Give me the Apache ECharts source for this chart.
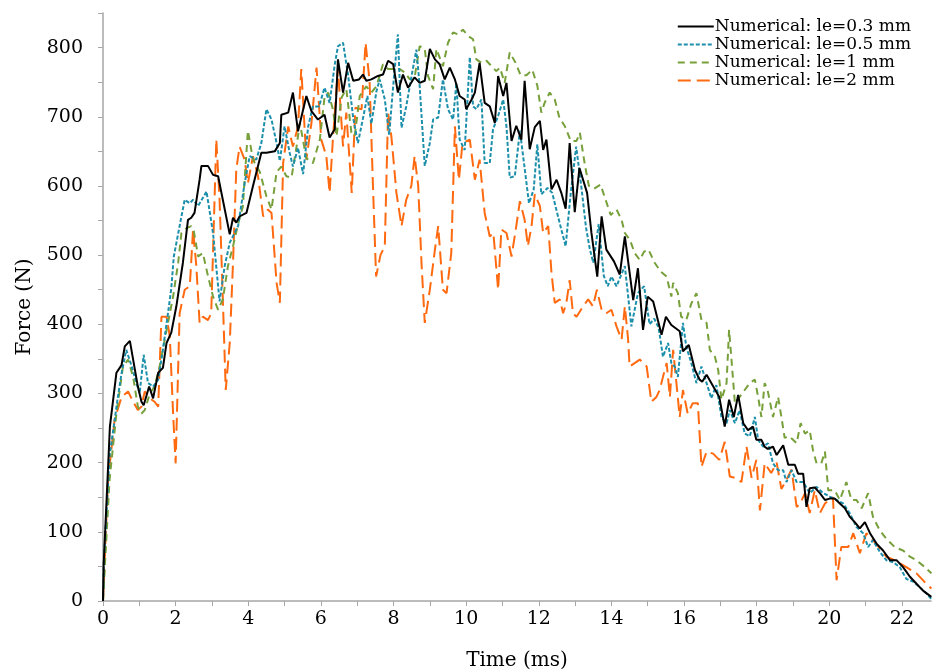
<!DOCTYPE html>
<html>
<head>
<meta charset="utf-8">
<script src="https://cdn.jsdelivr.net/npm/echarts@6/dist/echarts.min.js"></script>
<style>
html, body { margin: 0; padding: 0; background: #fff; }
#main { width: 932px; height: 671px; }
</style>
</head>
<body>
<div id="main"></div>
<script>
var seriesNames = ['Numerical: le=0.3 mm', 'Numerical: le=0.5 mm', 'Numerical: le=1 mm', 'Numerical: le=2 mm'];
var xTicks = [0, 2, 4, 6, 8, 10, 12, 14, 16, 18, 20, 22];

// le = 0.3 mm
var t03 = [0, 0.02, 0.19, 0.37, 0.51, 0.6, 0.74, 0.96, 1.06, 1.12, 1.27, 1.38, 1.52, 1.65, 1.75, 1.88, 2.02, 2.2, 2.34, 2.43, 2.52, 2.66, 2.71, 2.89, 3.03, 3.17, 3.49, 3.58, 3.67, 3.76, 3.95, 4.13, 4.36, 4.5, 4.73, 4.87, 4.91, 5.1, 5.23, 5.37, 5.6, 5.74, 5.92, 6.1, 6.24, 6.38, 6.47, 6.61, 6.75, 6.89, 7.05, 7.16, 7.25, 7.39, 7.57, 7.71, 7.85, 7.99, 8.12, 8.26, 8.4, 8.58, 8.72, 8.86, 9.0, 9.14, 9.27, 9.41, 9.55, 9.69, 9.82, 9.96, 10.0, 10.15, 10.24, 10.37, 10.51, 10.65, 10.79, 10.88, 11.02, 11.11, 11.25, 11.38, 11.52, 11.61, 11.75, 11.89, 12.03, 12.12, 12.21, 12.35, 12.49, 12.62, 12.74, 12.85, 12.99, 13.12, 13.33, 13.45, 13.61, 13.73, 13.86, 14.07, 14.23, 14.37, 14.6, 14.73, 14.87, 15.0, 15.15, 15.38, 15.5, 15.65, 15.88, 15.97, 16.13, 16.3, 16.43, 16.5, 16.62, 16.75, 16.97, 17.12, 17.24, 17.37, 17.49, 17.63, 17.76, 17.9, 17.99, 18.13, 18.22, 18.3, 18.45, 18.55, 18.73, 18.87, 19.05, 19.14, 19.28, 19.37, 19.46, 19.6, 19.74, 19.88, 20.01, 20.15, 20.29, 20.43, 20.56, 20.7, 20.84, 20.98, 21.12, 21.3, 21.48, 21.67, 21.85, 22.03, 22.22, 22.4, 22.58, 22.81];
var f03 = [0, 55, 252, 330, 341, 368, 376, 310, 288, 283, 310, 293, 330, 337, 373, 388, 426, 489, 551, 554, 561, 609, 629, 629, 616, 614, 530, 554, 547, 556, 561, 600, 648, 648, 650, 662, 703, 706, 735, 679, 730, 708, 696, 703, 670, 682, 783, 735, 778, 752, 754, 761, 752, 754, 759, 761, 781, 776, 735, 761, 742, 757, 749, 752, 798, 783, 776, 754, 771, 754, 730, 725, 711, 725, 735, 778, 720, 715, 691, 759, 730, 749, 665, 687, 667, 752, 653, 685, 694, 652, 667, 595, 609, 590, 567, 662, 562, 626, 590, 532, 469, 556, 508, 491, 472, 527, 435, 481, 392, 440, 433, 385, 411, 399, 390, 361, 370, 334, 320, 317, 327, 315, 295, 252, 291, 266, 298, 257, 247, 252, 233, 233, 223, 220, 223, 211, 225, 197, 197, 184, 184, 136, 163, 164, 156, 146, 148, 148, 141, 134, 122, 114, 105, 114, 98, 83, 73, 59, 59, 49, 35, 25, 15, 6];

// le = 0.5 mm
var t05 = [0, 0.02, 0.18, 0.41, 0.51, 0.64, 0.78, 0.92, 1.01, 1.12, 1.24, 1.38, 1.52, 1.65, 1.79, 1.88, 1.95, 2.16, 2.25, 2.39, 2.48, 2.62, 2.85, 3.03, 3.21, 3.35, 3.49, 3.72, 3.9, 4.04, 4.22, 4.36, 4.5, 4.64, 4.78, 4.87, 5.0, 5.14, 5.23, 5.37, 5.51, 5.65, 5.78, 5.95, 6.1, 6.24, 6.38, 6.47, 6.61, 6.75, 6.89, 7.02, 7.16, 7.28, 7.39, 7.53, 7.62, 7.76, 7.88, 7.99, 8.12, 8.22, 8.35, 8.49, 8.63, 8.72, 8.86, 9.0, 9.09, 9.23, 9.36, 9.5, 9.64, 9.73, 9.82, 9.96, 10.1, 10.19, 10.28, 10.42, 10.51, 10.65, 10.74, 10.88, 11.02, 11.11, 11.2, 11.34, 11.48, 11.6, 11.73, 11.86, 11.96, 12.07, 12.24, 12.37, 12.51, 12.62, 12.74, 12.88, 13.03, 13.18, 13.3, 13.4, 13.5, 13.65, 13.79, 13.9, 14.0, 14.14, 14.37, 14.55, 14.73, 14.9, 15.05, 15.18, 15.3, 15.42, 15.56, 15.65, 15.74, 15.83, 15.97, 16.06, 16.2, 16.34, 16.48, 16.62, 16.75, 16.89, 17.03, 17.17, 17.26, 17.4, 17.53, 17.67, 17.81, 17.95, 18.04, 18.18, 18.31, 18.45, 18.59, 18.73, 18.82, 18.96, 19.1, 19.28, 19.46, 19.65, 19.83, 20.01, 20.2, 20.38, 20.56, 20.75, 20.93, 21.07, 21.2, 21.39, 21.57, 21.76, 21.94, 22.12, 22.31, 22.49, 22.67, 22.81];
var f05 = [0, 55, 209, 295, 329, 363, 341, 315, 300, 356, 315, 310, 320, 363, 416, 452, 498, 556, 580, 575, 580, 571, 592, 532, 433, 484, 518, 542, 604, 643, 638, 662, 711, 696, 662, 636, 686, 648, 628, 655, 617, 686, 715, 715, 742, 720, 775, 802, 807, 760, 698, 662, 698, 730, 690, 737, 754, 725, 674, 744, 819, 684, 715, 757, 797, 744, 629, 662, 696, 699, 754, 711, 696, 749, 667, 652, 786, 715, 711, 725, 633, 633, 682, 701, 725, 686, 612, 614, 680, 630, 575, 595, 660, 588, 597, 590, 560, 537, 513, 590, 657, 595, 540, 510, 489, 545, 470, 455, 469, 455, 484, 397, 445, 455, 400, 408, 395, 353, 373, 344, 339, 324, 402, 368, 344, 315, 339, 315, 293, 312, 266, 257, 276, 257, 276, 242, 238, 266, 233, 223, 228, 199, 189, 189, 172, 189, 172, 172, 156, 165, 156, 151, 146, 141, 127, 107, 98, 78, 88, 71, 59, 56, 49, 32, 28, 20, 11, 3];

// le = 1 mm
var t1 = [0, 0.02, 0.18, 0.37, 0.55, 0.69, 0.83, 0.96, 1.06, 1.15, 1.29, 1.42, 1.56, 1.7, 1.79, 1.93, 2.07, 2.16, 2.3, 2.43, 2.5, 2.62, 2.75, 2.89, 3.03, 3.17, 3.3, 3.44, 3.58, 3.72, 3.85, 3.99, 4.13, 4.32, 4.5, 4.64, 4.78, 4.91, 5.05, 5.19, 5.33, 5.42, 5.6, 5.78, 5.97, 6.1, 6.2, 6.33, 6.43, 6.57, 6.7, 6.84, 6.93, 7.07, 7.25, 7.39, 7.53, 7.71, 7.85, 8.03, 8.17, 8.31, 8.45, 8.58, 8.72, 8.86, 8.95, 9.09, 9.18, 9.36, 9.5, 9.64, 9.78, 9.91, 10.05, 10.19, 10.28, 10.42, 10.56, 10.7, 10.83, 10.93, 11.06, 11.2, 11.36, 11.5, 11.66, 11.82, 11.96, 12.07, 12.16, 12.3, 12.44, 12.56, 12.72, 12.88, 13.04, 13.13, 13.27, 13.38, 13.52, 13.7, 13.84, 13.98, 14.14, 14.28, 14.37, 14.51, 14.64, 14.78, 14.9, 15.02, 15.19, 15.36, 15.52, 15.65, 15.7, 15.83, 15.92, 16.06, 16.2, 16.34, 16.48, 16.62, 16.71, 16.85, 16.94, 17.03, 17.17, 17.24, 17.3, 17.4, 17.53, 17.67, 17.81, 17.95, 18.04, 18.13, 18.22, 18.3, 18.45, 18.59, 18.68, 18.77, 18.9, 19.0, 19.1, 19.21, 19.33, 19.46, 19.55, 19.65, 19.78, 19.88, 19.97, 20.15, 20.29, 20.47, 20.61, 20.75, 20.89, 21.07, 21.2, 21.39, 21.57, 21.8, 22.03, 22.22, 22.4, 22.63, 22.81];
var f1 = [0, 20, 175, 271, 339, 349, 324, 281, 271, 276, 300, 310, 339, 378, 402, 440, 489, 532, 539, 542, 535, 498, 503, 470, 440, 421, 436, 484, 513, 545, 570, 680, 638, 620, 585, 566, 620, 628, 614, 612, 657, 691, 640, 633, 667, 728, 735, 711, 672, 728, 740, 677, 672, 730, 744, 735, 744, 776, 769, 769, 769, 764, 754, 757, 802, 798, 759, 740, 798, 773, 807, 822, 819, 826, 817, 812, 783, 778, 781, 773, 766, 771, 749, 793, 778, 760, 760, 768, 745, 706, 720, 735, 725, 700, 686, 665, 665, 677, 630, 600, 596, 602, 580, 558, 566, 551, 532, 522, 503, 493, 505, 508, 489, 476, 469, 440, 460, 445, 411, 406, 430, 445, 406, 402, 363, 353, 334, 291, 315, 392, 353, 286, 295, 305, 315, 320, 295, 266, 315, 305, 266, 295, 266, 236, 238, 233, 228, 257, 242, 247, 218, 199, 199, 216, 160, 160, 146, 172, 146, 146, 134, 156, 122, 102, 90, 78, 73, 64, 59, 49, 40];

// le = 2 mm
var t2 = [0, 0.14, 0.32, 0.51, 0.69, 0.83, 0.96, 1.06, 1.15, 1.29, 1.42, 1.52, 1.61, 1.75, 1.84, 1.93, 2.0, 2.11, 2.25, 2.39, 2.48, 2.57, 2.66, 2.75, 2.89, 2.98, 3.12, 3.21, 3.3, 3.38, 3.49, 3.58, 3.67, 3.76, 3.9, 3.99, 4.13, 4.27, 4.41, 4.54, 4.64, 4.78, 4.87, 4.96, 5.1, 5.23, 5.37, 5.46, 5.6, 5.74, 5.88, 6.01, 6.15, 6.24, 6.33, 6.47, 6.61, 6.7, 6.85, 6.95, 7.12, 7.23, 7.34, 7.44, 7.52, 7.64, 7.76, 7.85, 7.94, 8.08, 8.22, 8.35, 8.49, 8.58, 8.68, 8.77, 8.86, 9.0, 9.14, 9.23, 9.36, 9.46, 9.59, 9.69, 9.8, 9.9, 10.1, 10.24, 10.37, 10.51, 10.65, 10.75, 10.88, 10.97, 11.11, 11.25, 11.38, 11.48, 11.61, 11.7, 11.8, 11.89, 12.03, 12.12, 12.26, 12.35, 12.44, 12.58, 12.67, 12.76, 12.85, 12.94, 13.04, 13.22, 13.36, 13.49, 13.6, 13.73, 13.86, 14.0, 14.14, 14.28, 14.37, 14.46, 14.5, 14.78, 14.97, 15.1, 15.24, 15.33, 15.42, 15.52, 15.61, 15.7, 15.79, 15.88, 15.97, 16.1, 16.24, 16.38, 16.48, 16.62, 16.8, 16.97, 17.12, 17.26, 17.4, 17.58, 17.72, 17.86, 17.99, 18.09, 18.22, 18.4, 18.55, 18.68, 18.82, 18.96, 19.1, 19.19, 19.33, 19.46, 19.6, 19.74, 19.88, 20.1, 20.2, 20.33, 20.52, 20.66, 20.84, 21.02, 21.2, 21.39, 21.57, 21.8, 22.12, 22.4, 22.67, 22.81];
var f2 = [0, 175, 262, 295, 303, 288, 276, 281, 303, 293, 288, 281, 411, 411, 382, 271, 199, 416, 450, 455, 537, 484, 402, 411, 406, 416, 667, 580, 436, 305, 373, 489, 624, 657, 638, 604, 643, 614, 556, 566, 561, 460, 431, 633, 686, 657, 686, 769, 638, 691, 771, 667, 643, 590, 667, 770, 657, 706, 590, 713, 711, 807, 752, 590, 469, 500, 513, 706, 672, 590, 542, 580, 600, 643, 600, 489, 402, 450, 508, 542, 450, 445, 503, 686, 609, 662, 667, 609, 638, 561, 527, 532, 450, 537, 532, 498, 542, 578, 551, 513, 542, 588, 571, 532, 542, 474, 431, 436, 416, 431, 464, 416, 411, 426, 436, 426, 450, 421, 416, 421, 397, 378, 426, 378, 339, 349, 339, 288, 295, 305, 324, 344, 295, 363, 315, 266, 305, 271, 286, 286, 194, 216, 213, 204, 230, 180, 178, 172, 223, 178, 204, 131, 199, 185, 200, 162, 175, 190, 136, 140, 156, 127, 160, 127, 141, 150, 30, 78, 78, 98, 69, 98, 88, 76, 64, 59, 49, 40, 25, 18];

function pairs(t, f) {
    var out = [];
    for (var i = 0; i < t.length; i++) {
        out.push([t[i], f[i]]);
    }
    return out;
}

var chart = echarts.init(document.getElementById('main'));
var font = 'DejaVu Serif';

option = {
    animation: false,
    backgroundColor: '#ffffff',
    grid: {
        left: 103,
        right: 1,
        top: 13,
        bottom: 70,
        containLabel: false,
        outerBoundsMode: 'none'
    },
    legend: {
        orient: 'vertical',
        right: 16,
        top: 13,
        itemGap: 1,
        itemWidth: 36,
        itemHeight: 12,
        data: seriesNames,
        // line samples only, no marker on them
        itemStyle: { opacity: 0 },
        textStyle: {
            fontFamily: font,
            fontSize: 17,
            color: '#000',
            padding: [0, 0, 0, -4]
        }
    },
    xAxis: {
        type: 'value',
        min: 0,
        max: 22.8,
        interval: 1,
        name: 'Time (ms)',
        nameLocation: 'middle',
        nameGap: 50,
        nameTextStyle: { fontFamily: font, fontSize: 20, color: '#000' },
        axisLine: { lineStyle: { color: '#a6a6a6', width: 1.5 } },
        axisTick: { show: true, inside: false, length: 5, lineStyle: { color: '#a6a6a6' } },
        axisLabel: {
            fontFamily: font,
            fontSize: 19,
            color: '#000',
            margin: 9,
            showMaxLabel: false,
            formatter: function (v) {
                return xTicks.indexOf(v) >= 0 ? String(v) : '';
            }
        },
        splitLine: { show: false }
    },
    yAxis: {
        type: 'value',
        min: 0,
        max: 850,
        interval: 50,
        name: 'Force (N)',
        nameLocation: 'middle',
        nameGap: 68,
        nameRotate: 90,
        nameTextStyle: { fontFamily: font, fontSize: 20, color: '#000' },
        axisLine: { show: true, lineStyle: { color: '#a6a6a6', width: 1.5 } },
        axisTick: { show: true, inside: false, length: 5, lineStyle: { color: '#a6a6a6' } },
        axisLabel: {
            fontFamily: font,
            fontSize: 19,
            color: '#000',
            margin: 20,
            formatter: function (v) {
                return v % 100 === 0 ? String(v) : '';
            }
        },
        splitLine: { show: false }
    },
    series: [
        {
            name: seriesNames[0],
            type: 'line',
            symbol: 'none',
            data: pairs(t03, f03),
            z: 5,
            lineStyle: { color: '#000000', width: 2, type: 'solid' },
            itemStyle: { color: '#000000' }
        },
        {
            name: seriesNames[1],
            type: 'line',
            symbol: 'none',
            data: pairs(t05, f05),
            z: 4,
            lineStyle: { color: '#1c8fab', width: 2, type: [4, 2] },
            itemStyle: { color: '#1c8fab' }
        },
        {
            name: seriesNames[2],
            type: 'line',
            symbol: 'none',
            data: pairs(t1, f1),
            z: 3,
            lineStyle: { color: '#77a03a', width: 2, type: [7, 5] },
            itemStyle: { color: '#77a03a' }
        },
        {
            name: seriesNames[3],
            type: 'line',
            symbol: 'none',
            data: pairs(t2, f2),
            z: 2,
            lineStyle: { color: '#ff6a10', width: 2, type: [13, 6] },
            itemStyle: { color: '#ff6a10' }
        }
    ]
};
chart.setOption(option);
</script>
</body>
</html>
